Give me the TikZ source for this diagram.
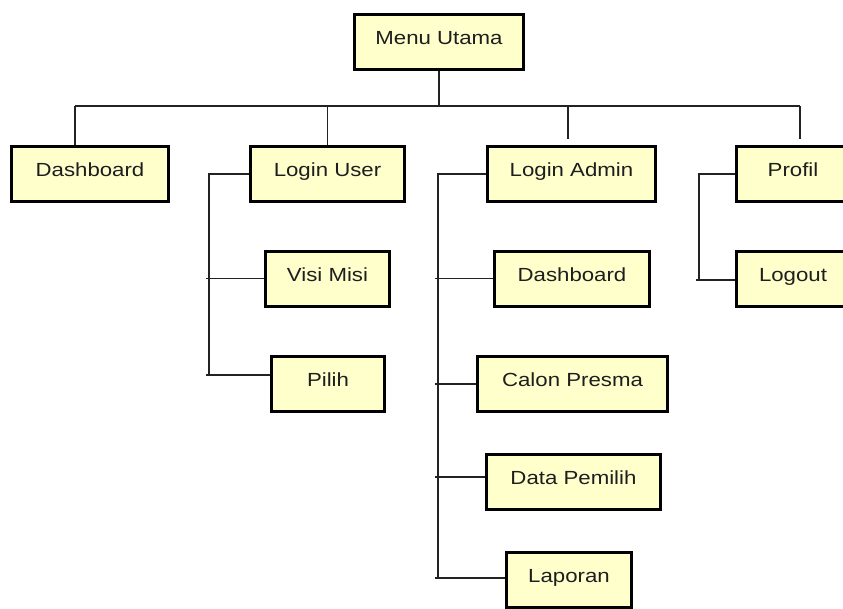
\documentclass[tikz,border=0pt]{standalone}
\usepackage{fontspec}
\setmainfont{Liberation Sans}[FakeStretch=1.17]
\usetikzlibrary{calc}
\definecolor{boxfill}{RGB}{255,255,204}
\definecolor{textcol}{RGB}{30,30,30}
\definecolor{linecol}{RGB}{34,34,34}
\begin{document}
\begin{tikzpicture}[x=1pt,y=-1pt,
  box/.style={draw=black, line width=3pt, fill=boxfill, inner sep=0pt,
    minimum height=55pt, text height=13.5pt, text depth=8pt, text=textcol,
    font=\fontsize{19}{20}\selectfont},
  conn/.style={draw=linecol, line width=1.6pt}]
\clip (0,0) rectangle (843,608);
\fill[white] (0,0) rectangle (843,608);
% boxes
\node[box, minimum width=169pt] (mu) at (439,42) {Menu Utama};
\node[box, minimum width=157pt] (d1) at (90,174) {Dashboard};
\node[box, minimum width=154pt] (lu) at (327.5,174) {Login User};
\node[box, minimum width=168pt] (la) at (571.5,174) {Login Admin};
\node[box, minimum width=113pt] (pr) at (793,174) {Profil};
\node[box, minimum width=124pt] (vm) at (327.5,278.5) {Visi Misi};
\node[box, minimum width=113pt] (pi) at (328,384) {Pilih};
\node[box, minimum width=155pt] (d2) at (572,278.5) {Dashboard};
\node[box, minimum width=190pt] (cp) at (572.5,384) {Calon Presma};
\node[box, minimum width=174pt] (dp) at (573.5,482) {Data Pemilih};
\node[box, minimum width=125pt] (lp) at (569,580) {Laporan};
\node[box, minimum width=113pt] (lo) at (793,278.5) {Logout};
% bus
\coordinate (busL) at (75,106);
\coordinate (busR) at (800,106);
\draw[conn] (mu.south) -- (mu.south |- busL);
\draw[conn] (busL) -- (busR);
\draw[conn] (busL) -- (busL |- d1.north);
\draw[conn] (lu.north) -- (lu.north |- busL);
\coordinate (laT) at ($(la.north)+(-3.5,0)$);
\draw[conn, shorten <=6pt] (laT) -- (laT |- busL);
\draw[conn, shorten <=6pt] (busR |- pr.north) -- (busR);
% Login User subtree
\coordinate (su) at (209,0);
\coordinate (piB) at ($(pi.west)+(0,-9)$);
\draw[conn] (lu.west) -| (piB -| su);
\draw[conn] (vm.west) -- ($(vm.west -| su)+(-3,0)$);
\draw[conn] (piB) -- ($(piB -| su)+(-3,0)$);
% Login Admin subtree
\coordinate (sa) at (438,0);
\coordinate (dpB) at ($(dp.west)+(0,-5)$);
\coordinate (lpB) at ($(lp.west)+(0,-2)$);
\draw[conn] (la.west) -| (lpB -| sa);
\draw[conn] (d2.west) -- ($(d2.west -| sa)+(-3,0)$);
\draw[conn] (cp.west) -- ($(cp.west -| sa)+(-3,0)$);
\draw[conn] (dpB) -- ($(dpB -| sa)+(-3,0)$);
\draw[conn] (lpB) -- ($(lpB -| sa)+(-3,0)$);
% Profil subtree
\coordinate (sp) at (699,0);
\coordinate (loB) at ($(lo.west)+(0,1.5)$);
\draw[conn] (pr.west) -| (loB -| sp);
\draw[conn] (loB) -- ($(loB -| sp)+(-3,0)$);
\end{tikzpicture}
\end{document}
